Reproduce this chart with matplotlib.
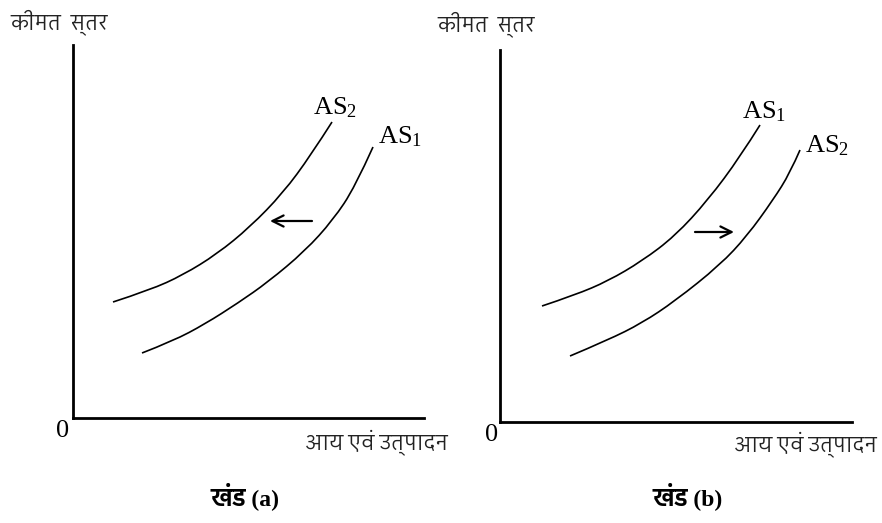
import matplotlib
matplotlib.use("Agg")
import matplotlib.pyplot as plt
import matplotlib.font_manager as fm
from matplotlib.ft2font import FT2Font
from matplotlib.path import Path
from matplotlib.patches import PathPatch

# curve points, each panel measured from its own origin (x right, y up)
a_as1_x = [69, 100, 132, 165, 195, 232, 260, 282, 300]
a_as1_y = [65, 77, 94, 115, 136, 167, 198, 231, 271]
a_as2_x = [40, 77, 110, 144, 177, 210, 238, 259]
a_as2_y = [116, 128, 143, 164, 191, 225, 263, 296]

b_as1_x = [42, 75, 108, 142, 175, 208, 240, 260]
b_as1_y = [116, 127, 141, 161, 186, 222, 265, 297]
b_as2_x = [70, 108, 142, 175, 220, 247, 273, 290, 300]
b_as2_y = [66, 82, 99, 121, 157, 186, 222, 249, 272]

y_label = "कीमत  स्तर"
x_label = "आय एवं उत्पादन"
captions = ["खंड (a)", "खंड (b)"]


def deva_font():
    # installed font with Devanagari glyphs, proportional sans first
    found = []
    for f in fm.fontManager.ttflist:
        try:
            cmap = FT2Font(f.fname).get_charmap()
        except Exception:
            continue
        if 0x0915 in cmap and 0x0940 in cmap:
            found.append(f.name)
    if not found:
        return "DejaVu Sans"

    def rank(n):
        return ("Mono" in n, "Devanagari" not in n, "Sans" not in n, n)
    return sorted(set(found), key=rank)[0]


def smooth_path(xs, ys):
    # quadratic B-spline through the midpoints of the measured points
    pts = list(zip(xs, ys))
    verts = [pts[0]]
    codes = [Path.MOVETO]
    for i in range(1, len(pts) - 1):
        if i < len(pts) - 2:
            end = ((pts[i][0] + pts[i + 1][0]) / 2, (pts[i][1] + pts[i + 1][1]) / 2)
        else:
            end = pts[-1]
        verts += [pts[i], end]
        codes += [Path.CURVE3, Path.CURVE3]
    return Path(verts, codes)


hindi = deva_font()
plt.rcParams["mathtext.fontset"] = "custom"
plt.rcParams["mathtext.rm"] = "Liberation Serif"
plt.rcParams["mathtext.it"] = "Liberation Serif:italic"

fig = plt.figure(figsize=(8.82, 5.23), dpi=100)
W, H = 882, 523

panels = [
    dict(box=(73, 418, 351, 373),
         curves=[(a_as1_x, a_as1_y), (a_as2_x, a_as2_y)],
         labels=[("AS$_2$", 240, 304), ("AS$_1$", 305, 275)],
         arrow=((239, 197), (197, 197)),
         zero=(-10, -13), ylab=(-63, 396), xlab=(375, -24), cap=245),
    dict(box=(500, 422, 352, 372),
         curves=[(b_as1_x, b_as1_y), (b_as2_x, b_as2_y)],
         labels=[("AS$_1$", 242, 304), ("AS$_2$", 305, 270)],
         arrow=((195, 190), (234, 190)),
         zero=(-8, -13), ylab=(-63, 398), xlab=(377, -22), cap=688),
]

for i, p in enumerate(panels):
    x0, y0, w, h = p["box"]
    ax = fig.add_axes([x0 / W, 1 - y0 / H, w / W, h / H])
    ax.set_xlim(0, w)
    ax.set_ylim(0, h)
    ax.patch.set_visible(False)
    for s in ["top", "right"]:
        ax.spines[s].set_visible(False)
    for s in ["left", "bottom"]:
        ax.spines[s].set_linewidth(2)
    ax.set_xticks([])
    ax.set_yticks([])

    for cx, cy in p["curves"]:
        ax.add_patch(PathPatch(smooth_path(cx, cy), fill=False,
                               edgecolor="black", lw=1.2))

    for txt, tx, ty in p["labels"]:
        ax.text(tx, ty, txt, fontsize=19, family="Liberation Serif",
                ha="left", va="baseline", clip_on=False)

    tail, tip = p["arrow"]
    ax.annotate("", xy=tip, xytext=tail,
                arrowprops=dict(arrowstyle="->,head_length=0.8,head_width=0.4",
                                lw=1.6, color="black", shrinkA=0, shrinkB=0))

    ax.text(*p["zero"], "0", fontsize=19, family="Liberation Serif",
            ha="center", va="center", clip_on=False)
    ax.text(*p["ylab"], y_label, fontsize=15, family=[hindi, "DejaVu Sans"],
            color="#222222", ha="left", va="center", clip_on=False)
    ax.text(*p["xlab"], x_label, fontsize=15, family=[hindi, "DejaVu Sans"],
            color="#222222", ha="right", va="center", clip_on=False)

    fig.text(p["cap"] / W, 1 - 496 / H, captions[i], fontsize=17,
             fontweight="bold", family=["Liberation Serif", hindi],
             ha="center", va="center")

fig.savefig("out.png", dpi=100)
